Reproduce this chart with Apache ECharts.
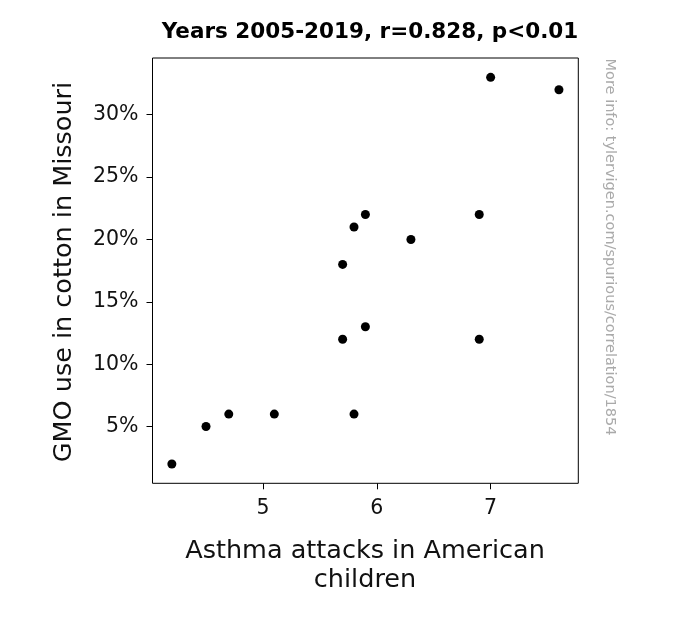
<!DOCTYPE html>
<html>
<head>
<meta charset="utf-8">
<script src="https://cdn.jsdelivr.net/npm/echarts@6/dist/echarts.min.js"></script>
<style>html,body{margin:0;padding:0;background:#fff;}#c{width:694px;height:627px;}</style>
</head>
<body>
<div id="c"></div>
<script>
var asthma = [4.2, 4.5, 4.7, 5.1, 5.7, 5.7, 5.8, 5.8, 5.9, 5.9, 6.3, 6.9, 6.9, 7.0, 7.6];
var gmo    = [2, 5, 6, 6, 18, 12, 21, 6, 22, 13, 20, 22, 12, 33, 32];
var xTicks = [5, 6, 7];
var yTicks = [5, 10, 15, 20, 25, 30];
var titleText = 'Years 2005-2019, r=0.828, p<0.01';
var xName = 'Asthma attacks in American\nchildren';
var yName = 'GMO use in cotton in Missouri';
var sideNote = 'More info: tylervigen.com/spurious/correlation/1854';

var pts = asthma.map(function (v, i) { return [v, gmo[i]]; });
var font = 'DejaVu Sans';
var chart = echarts.init(document.getElementById('c'));
chart.setOption({
  animation: false,
  backgroundColor: '#fff',
  title: {
    text: titleText, left: 365, top: 16, textAlign: 'center',
    textStyle: { fontFamily: font, fontWeight: 'bold', fontSize: 21.5, color: '#000' }
  },
  grid: { left: 152.5, right: 115.7, top: 58, bottom: 143.7, show: true, borderColor: '#000', borderWidth: 1, backgroundColor: 'transparent' },
  xAxis: {
    type: 'value', min: 4.03, max: 7.77,
    axisLine: { show: false },
    splitLine: { show: false },
    axisTick: { show: true, customValues: xTicks, length: 6, lineStyle: { color: '#000' } },
    axisLabel: { customValues: xTicks, fontFamily: font, fontSize: 20.5, color: '#111', margin: 15 }
  },
  yAxis: {
    type: 'value', min: 0.45, max: 34.55,
    axisLine: { show: false },
    splitLine: { show: false },
    axisTick: { show: true, customValues: yTicks, length: 6, lineStyle: { color: '#000' } },
    axisLabel: { customValues: yTicks, fontFamily: font, fontSize: 20.5, color: '#111', margin: 14,
      formatter: function (v) { return v + '%'; } }
  },
  series: [{
    type: 'scatter', data: pts, symbolSize: 9,
    itemStyle: { color: '#000', opacity: 1 }
  }],
  graphic: [
    { type: 'text', x: 365, y: 565.5, style: { text: xName, fontFamily: font, fontSize: 25.5, fill: '#111', align: 'center', verticalAlign: 'middle', lineHeight: 29 } },
    { type: 'text', x: 64, y: 272, rotation: Math.PI / 2, style: { text: yName, fontFamily: font, fontSize: 25.5, fill: '#111', align: 'center', verticalAlign: 'middle' } },
    { type: 'text', x: 610, y: 247, rotation: -Math.PI / 2, style: { text: sideNote, fontFamily: font, fontSize: 14.5, fill: '#aaa', align: 'center', verticalAlign: 'middle' } }
  ]
});
</script>
</body>
</html>
